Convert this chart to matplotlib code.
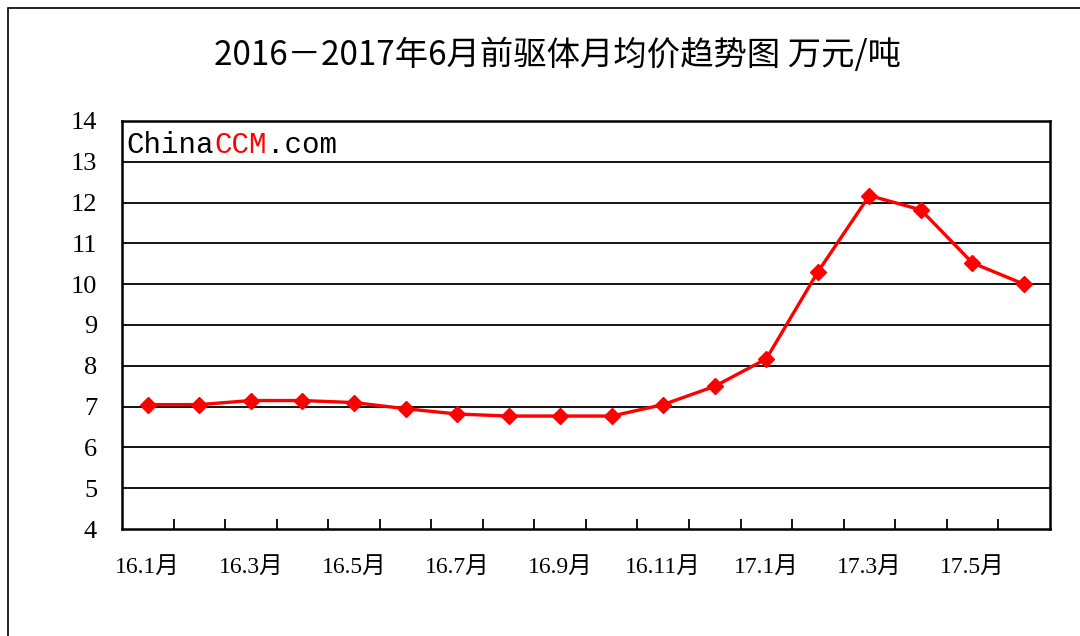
import numpy as np
import matplotlib.pyplot as plt
from matplotlib.patches import Rectangle
from matplotlib.offsetbox import TextArea, HPacker, AnchoredOffsetbox

plt.rcParams['font.family'] = ['Liberation Serif', 'Noto Sans CJK SC']

months = ['16.1月', '16.2月', '16.3月', '16.4月', '16.5月', '16.6月', '16.7月', '16.8月', '16.9月',
          '16.10月', '16.11月', '16.12月', '17.1月', '17.2月', '17.3月', '17.4月', '17.5月', '17.6月']
prices = [7.05, 7.05, 7.15, 7.15, 7.1, 6.95, 6.82, 6.77, 6.77,
          6.77, 7.05, 7.5, 8.17, 10.3, 12.17, 11.82, 10.52, 10.0]
yticks = [4, 5, 6, 7, 8, 9, 10, 11, 12, 13, 14]

fig = plt.figure(figsize=(10.8, 6.36), dpi=100)
ax = fig.add_axes([0.113, 0.168, 0.859, 0.642])

# outer frame
fig.patches.append(Rectangle((8/1080, -0.1), 1.2, 1 - 8/636 + 0.1, transform=fig.transFigure,
                             fill=False, edgecolor='black', linewidth=1.2))

x = np.arange(len(months))
ax.plot(x, prices, color='#ff0000', lw=2.4, marker='D', markersize=8, zorder=3, clip_on=False)

ax.set_ylim(4, 14)
ax.set_yticks(yticks)
ax.set_yticklabels([str(v) for v in yticks], fontsize=19)
ax.tick_params(axis='y', length=0, pad=18)
for v in yticks[1:-1]:
    ax.axhline(v, color='black', lw=1.3, zorder=1)

ax.set_xlim(-0.5, len(months) - 0.5)
ax.set_xticks(np.arange(0.5, len(months) - 1, 1))
ax.set_xticklabels([])
ax.tick_params(axis='x', which='major', direction='in', length=7, width=1.3)
ax.set_xticks(x[::2], minor=True)
ax.set_xticklabels(months[::2], minor=True, fontsize=17)
ax.tick_params(axis='x', which='minor', length=0, pad=20)

for s in ax.spines.values():
    s.set_linewidth(1.8)

# watermark
mono = dict(size=21, family='Liberation Mono')
parts = [TextArea('China', textprops=dict(color='black', **mono)),
         TextArea('CCM', textprops=dict(color='#ff0000', **mono)),
         TextArea('.com', textprops=dict(color='black', **mono))]
box = HPacker(children=parts, align='baseline', pad=0, sep=0)
anch = AnchoredOffsetbox(loc='upper left', child=box, pad=0, frameon=False,
                         bbox_to_anchor=(0.005, 0.975), bbox_transform=ax.transAxes, borderpad=0)
ax.add_artist(anch)

fig.text(0.516, 0.913, '2016－2017年6月前驱体月均价趋势图 万元/吨', ha='center', va='center',
         fontsize=24, family=['Liberation Sans Narrow', 'Noto Sans CJK SC'])

fig.savefig('out.png', dpi=100)
